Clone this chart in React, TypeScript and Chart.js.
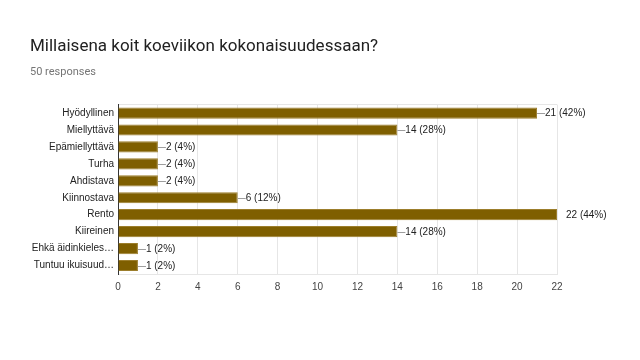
import React, { useEffect, useRef } from "react";
import { Chart, registerables } from "chart.js";

Chart.register(...registerables);

const categories = [
  "Hyödyllinen",
  "Miellyttävä",
  "Epämiellyttävä",
  "Turha",
  "Ahdistava",
  "Kiinnostava",
  "Rento",
  "Kiireinen",
  "Ehkä äidinkieles…",
  "Tuntuu ikuisuud…",
];
const counts = [21, 14, 2, 2, 2, 6, 22, 14, 1, 1];
const percents = [42, 28, 4, 4, 4, 12, 44, 28, 2, 2];
const xTicks = [0, 2, 4, 6, 8, 10, 12, 14, 16, 18, 20, 22];
const titleText = "Millaisena koit koeviikon kokonaisuudessaan?";
const subtitleText = "50 responses";

const labelPlugin = {
  id: "barLabels",
  afterDatasetsDraw(chart: any) {
    const ctx = chart.ctx;
    const meta = chart.getDatasetMeta(0);
    ctx.save();
    ctx.font = "10px 'Liberation Sans', Arial, sans-serif";
    ctx.textBaseline = "middle";
    ctx.textAlign = "left";
    meta.data.forEach((bar: any, i: number) => {
      const x = bar.x;
      const y = bar.y;
      const atEdge = x >= chart.chartArea.right - 1;
      ctx.strokeStyle = "#9e9e9e";
      ctx.lineWidth = 1;
      if (!atEdge) {
        ctx.beginPath();
        ctx.moveTo(x, Math.round(y) + 0.5);
        ctx.lineTo(x + 8, Math.round(y) + 0.5);
        ctx.stroke();
      }
      ctx.fillStyle = "#222222";
      ctx.fillText(`${counts[i]} (${percents[i]}%)`, atEdge ? x + 9 : x + 8, y + 0.5);
    });
    ctx.restore();
  },
};

export default function App() {
  const ref = useRef<HTMLCanvasElement>(null);
  useEffect(() => {
    if (!ref.current) return;
    const chart = new Chart(ref.current, {
      type: "bar",
      data: {
        labels: categories,
        datasets: [
          {
            data: counts,
            backgroundColor: "#7f5f00",
            borderColor: "#9c7e2c",
            borderWidth: 1,
            barPercentage: 0.66,
            categoryPercentage: 1,
          },
        ],
      },
      plugins: [labelPlugin],
      options: {
        indexAxis: "y",
        responsive: false,
        animation: false,
        layout: { padding: { left: 30, right: 83, top: 0, bottom: 60 } },
        plugins: {
          legend: { display: false },
          tooltip: { enabled: false },
          title: {
            display: true,
            text: titleText,
            align: "start",
            color: "#212121",
            font: { family: "Roboto, 'Liberation Sans', sans-serif", size: 17, weight: "normal" },
            padding: { top: 37, bottom: 8 },
          },
          subtitle: {
            display: true,
            text: subtitleText,
            align: "start",
            color: "#757575",
            font: { family: "Roboto, 'Liberation Sans', sans-serif", size: 11 },
            padding: { top: 0, bottom: 26 },
          },
        },
        scales: {
          x: {
            min: 0,
            max: 22,
            afterBuildTicks: (scale: any) => {
              scale.ticks = xTicks.map((v) => ({ value: v }));
            },
            ticks: {
              color: "#444444",
              font: { family: "'Liberation Sans', Arial, sans-serif", size: 10 },
              padding: 7,
            },
            grid: { color: "#e6e6e6", drawTicks: false },
            border: { display: true, color: "#e6e6e6" },
          },
          y: {
            afterFit: (scale: any) => {
              scale.width = 88;
            },
            ticks: {
              color: "#222222",
              font: { family: "'Liberation Sans', Arial, sans-serif", size: 10 },
              padding: 4,
            },
            grid: {
              drawTicks: false,
              color: (c: any) => (c.index === 0 ? "#e6e6e6" : "rgba(0,0,0,0)"),
            },
            border: { display: true, color: "#333333" },
          },
        },
      },
    });
    return () => chart.destroy();
  }, []);
  return <canvas ref={ref} width={640} height={360} style={{ display: "block", margin: "-8px" }} />;
}
